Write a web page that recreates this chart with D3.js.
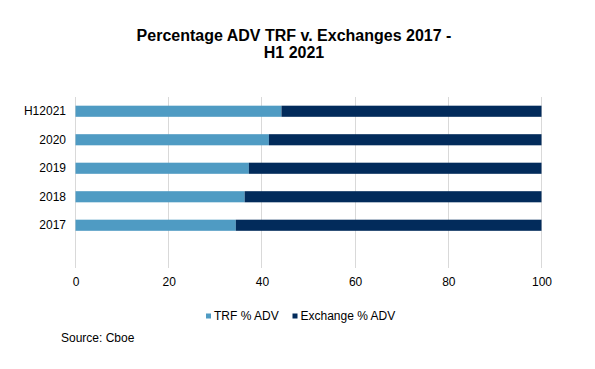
<!DOCTYPE html>
<html><head><meta charset="utf-8">
<script src="https://cdn.jsdelivr.net/npm/d3@7"></script>
<style>body{margin:0;background:#fff;} svg{display:block;font-family:"Liberation Sans",Arial,sans-serif;}</style>
</head><body>
<svg id="c" width="595" height="369"></svg>
<script>
const categories = ["H12021","2020","2019","2018","2017",""];
const trf = [44.2, 41.5, 37.2, 36.3, 34.4, null];
const exchange = [55.8, 58.5, 62.8, 63.7, 65.6, null];
const seriesNames = ["TRF % ADV","Exchange % ADV"];
const colors = ["#4f9bc3","#022b5b"];
const xTicks = [0,20,40,60,80,100];

const svg = d3.select("#c");
const x = d3.scaleLinear().domain([0,100]).range([75.5,541.5]);
const y = d3.scaleBand().domain(categories).range([97,268]).paddingInner(0.61).paddingOuter(0.305);

// gridlines
svg.append("g").selectAll("line").data(xTicks).join("line")
  .attr("x1",d=>x(d)).attr("x2",d=>x(d)).attr("y1",97).attr("y2",268)
  .attr("stroke","#d9d9d9").attr("stroke-width",1).attr("shape-rendering","crispEdges");

const rows = categories.map((c,i)=>({c, trf:trf[i], ex:exchange[i]})).filter(d=>d.trf!=null);
svg.append("g").selectAll("rect").data(rows).join("rect")
  .attr("x",x(0)).attr("y",d=>y(d.c)).attr("width",d=>x(d.trf)-x(0)).attr("height",y.bandwidth())
  .attr("fill",colors[0]);
svg.append("g").selectAll("rect").data(rows).join("rect")
  .attr("x",d=>x(d.trf)).attr("y",d=>y(d.c)).attr("width",d=>x(d.trf+d.ex)-x(d.trf)).attr("height",y.bandwidth())
  .attr("fill",colors[1]);

// x axis
const xa = svg.append("g").attr("transform","translate(0,268)")
  .call(d3.axisBottom(x).tickValues(xTicks).tickSize(0).tickPadding(9).tickFormat(d3.format("d")));
xa.select(".domain").remove();
xa.selectAll("text").attr("font-size",12).attr("fill","#000").attr("font-family","Liberation Sans, Arial, sans-serif");

// y axis
const ya = svg.append("g").attr("transform","translate(66,0)")
  .call(d3.axisLeft(y).tickSize(0).tickPadding(0));
ya.select(".domain").remove();
ya.selectAll("text").attr("font-size",12).attr("fill","#000").attr("font-family","Liberation Sans, Arial, sans-serif");

// title
const t = svg.append("text").attr("text-anchor","middle").attr("font-weight","bold").attr("font-size",16).attr("fill","#000");
t.append("tspan").attr("x",294).attr("y",41).text("Percentage ADV TRF v. Exchanges 2017 -");
t.append("tspan").attr("x",294).attr("y",58).text("H1 2021");

// legend
const lg = svg.append("g");
const lx = [206, 292.5];
seriesNames.forEach((n,i)=>{
  lg.append("rect").attr("x",lx[i]).attr("y",313.5).attr("width",5).attr("height",5).attr("fill",colors[i]);
  lg.append("text").attr("x",lx[i]+8).attr("y",320).attr("font-size",12).attr("fill","#000").text(n);
});

svg.append("text").attr("x",61).attr("y",342).attr("font-size",12).attr("fill","#000").text("Source: Cboe");
</script>
</body></html>
